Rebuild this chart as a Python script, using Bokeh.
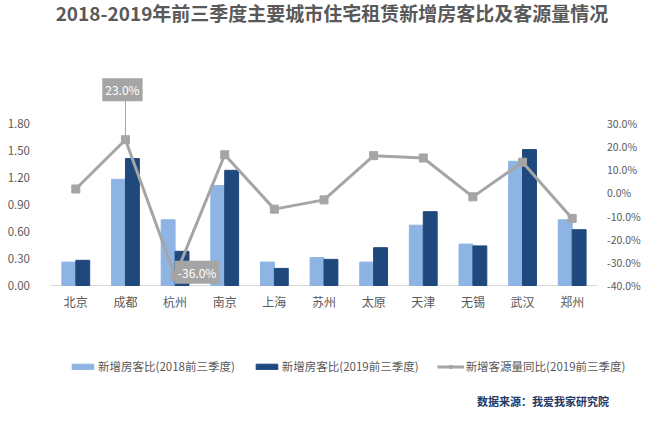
from bokeh.plotting import figure
from bokeh.models import (FactorRange, Range1d, LinearAxis, CategoricalAxis, FixedTicker,
                          NumeralTickFormatter, Legend, LegendItem, Label)
from bokeh.transform import dodge
from bokeh.embed import file_html
from bokeh.resources import INLINE

cities = ["北京", "成都", "杭州", "南京", "上海", "苏州", "太原", "天津", "无锡", "武汉", "郑州"]
ratio_2018 = [0.26, 1.18, 0.73, 1.11, 0.26, 0.31, 0.26, 0.67, 0.46, 1.38, 0.73]
ratio_2019 = [0.28, 1.41, 0.38, 1.28, 0.19, 0.29, 0.42, 0.82, 0.44, 1.51, 0.62]
growth_2019 = [0.017, 0.230, -0.360, 0.165, -0.070, -0.030, 0.161, 0.151, -0.017, 0.133, -0.110]
left_ticks = [0.0, 0.3, 0.6, 0.9, 1.2, 1.5, 1.8]
right_ticks = [-0.4, -0.3, -0.2, -0.1, 0.0, 0.1, 0.2, 0.3]
labels = ["新增房客比(2018前三季度)", "新增房客比(2019前三季度)", "新增客源量同比(2019前三季度)"]
title_text = "2018-2019年前三季度主要城市住宅租赁新增房客比及客源量情况"
source_text = "数据来源：我爱我家研究院"

FONT = "Noto Sans CJK SC"
TXT = "#595959"
C18 = "#8EB4E3"
C19 = "#1F497D"
CLINE = "#A5A5A5"

# layout (pixels)
W, H = 647, 407
CAT_W = 546.0                 # width occupied by the categories
PAD_PX = (W - CAT_W) / 2      # side space (axes labels live there)
BASE = 285                    # baseline y from top
L_PX = 90.0                   # px per unit on left axis
R_PX = 162.0 / 0.7            # px per unit on right axis
R_AT_BASE = -0.40
n = len(cities)
unit_px = CAT_W / n

y0 = -(H - BASE) / L_PX
y1 = BASE / L_PX
r0 = R_AT_BASE - (H - BASE) / R_PX
r1 = R_AT_BASE + BASE / R_PX

xr = FactorRange(*cities, range_padding=PAD_PX / unit_px, range_padding_units="absolute")
p = figure(x_range=xr, y_range=Range1d(y0, y1),
           frame_width=W, frame_height=H, output_backend="svg", toolbar_location=None,
           x_axis_location=None, y_axis_location=None,
           min_border_left=0, min_border_right=0, min_border_top=0, min_border_bottom=0)
p.extra_y_ranges = {"right": Range1d(r0, r1)}
p.outline_line_color = None
p.grid.grid_line_color = None
p.background_fill_color = "white"
p.border_fill_color = "white"

# baseline under the categories
p.segment(x0=[0], y0=[0], x1=[n], y1=[0], line_color="#D9D9D9", line_width=1)

r18 = p.vbar(x=dodge("x", -0.14, range=p.x_range), top="a", width=0.28, color=C18,
             source=dict(x=cities, a=ratio_2018))
r19 = p.vbar(x=dodge("x", 0.14, range=p.x_range), top="b", width=0.28, color=C19,
             source=dict(x=cities, b=ratio_2019))
rl = p.line(x=cities, y=growth_2019, y_range_name="right", line_color=CLINE, line_width=3)
rm = p.scatter(x=cities, y=growth_2019, y_range_name="right", marker="square", size=8,
               fill_color=CLINE, line_color=CLINE)

ya = LinearAxis(ticker=FixedTicker(ticks=left_ticks), formatter=NumeralTickFormatter(format="0.00"),
                fixed_location=0)
p.add_layout(ya, "left")
ra = LinearAxis(y_range_name="right", ticker=FixedTicker(ticks=right_ticks),
                formatter=NumeralTickFormatter(format="0.0%"), fixed_location=n)
p.add_layout(ra, "right")
for ax in [ya, ra]:
    ax.axis_line_color = None
    ax.major_tick_line_color = None
    ax.minor_tick_line_color = None
    ax.major_label_text_font = FONT
    ax.major_label_text_font_size = "11.5px"
    ax.major_label_text_color = TXT
ya.major_label_standoff = 15
ra.major_label_standoff = 4
ra.major_label_text_font_size = "10.5px"

xa = CategoricalAxis(fixed_location=0)
xa.axis_line_color = None
xa.major_tick_line_color = None
xa.minor_tick_line_color = None
xa.major_label_text_font = FONT
xa.major_label_text_font_size = "12px"
xa.major_label_text_color = TXT
xa.major_label_standoff = 1
p.add_layout(xa, "below")

# title
p.add_layout(Label(x=n / 2, y=0, x_offset=8, y_offset=BASE - 12, text=title_text,
                   text_font=FONT, text_font_size="19px", text_font_style="bold",
                   text_color=TXT, text_align="center", text_baseline="middle"))

# data labels
i_max = growth_2019.index(max(growth_2019))
i_min = growth_2019.index(min(growth_2019))
p.segment(x0=[cities[i_max]], y0=[growth_2019[i_max]], x1=[cities[i_max]],
          y1=[growth_2019[i_max] + 41 / R_PX], y_range_name="right", line_color=CLINE, line_width=1)
for i, dx, dy in [(i_max, -3, 50), (i_min, 22, 4)]:
    p.add_layout(Label(x=i + 0.5, y=growth_2019[i], y_range_name="right", x_offset=dx, y_offset=dy,
                       text=f"{growth_2019[i]*100:.1f}%", text_font=FONT, text_font_size="12px",
                       text_color="white", text_align="center", text_baseline="middle",
                       background_fill_color=CLINE, padding=3))

legend = Legend(items=[LegendItem(label=labels[0], renderers=[r18]),
                       LegendItem(label=labels[1], renderers=[r19]),
                       LegendItem(label=labels[2], renderers=[rl, rm])],
                orientation="horizontal", location=(69, 33),
                glyph_width=27, glyph_height=7, label_standoff=2, spacing=18,
                label_text_font=FONT, label_text_font_size="11.5px", label_text_color=TXT,
                border_line_color=None, background_fill_alpha=0, padding=0, margin=0)
legend.label_height = 12
p.add_layout(legend, "center")

p.add_layout(Label(x=n, y=0, x_offset=12, y_offset=BASE - 400, text=source_text,
                   text_font=FONT, text_font_size="11px", text_font_style="bold",
                   text_color="#1F3864", text_align="right", text_baseline="middle"))

open("out.html", "w").write(file_html(p, INLINE))
